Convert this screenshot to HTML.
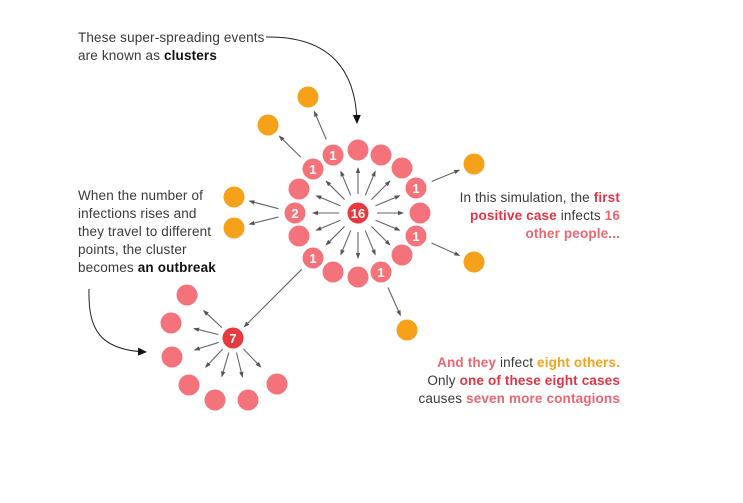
<!DOCTYPE html>
<html><head><meta charset="utf-8"><style>
html,body{margin:0;padding:0;background:#fff;}
body{width:743px;height:503px;position:relative;overflow:hidden;font-family:"Liberation Sans",sans-serif;}
.t{position:absolute;font-size:13.5px;line-height:18px;color:#3a3a3a;letter-spacing:0.15px;}
b{font-weight:bold;}
.r{text-align:right;}
.pk{color:#ec6670;} .rd{color:#e03546;} .or{color:#f4a31c;} .bk{color:#111;}
svg{position:absolute;left:0;top:0;}
</style></head><body>
<svg id="s" width="743" height="503" viewBox="0 0 743 503">
<defs>
<marker id="a" markerWidth="6" markerHeight="6" refX="5" refY="3" orient="auto" markerUnits="userSpaceOnUse"><path d="M0,0.8 L6,3 L0,5.2Z" fill="#555"/></marker>
<marker id="b" markerWidth="9" markerHeight="9" refX="8" refY="4.5" orient="auto" markerUnits="userSpaceOnUse"><path d="M0,0.5 L9,4.5 L0,8.5Z" fill="#111"/></marker>
</defs>
<path d="M266,37 C330,36 356,70 357,123" fill="none" stroke="#222" stroke-width="1" marker-end="url(#b)"/>
<path d="M89,289 C88,330 100,350 146,352" fill="none" stroke="#222" stroke-width="1" marker-end="url(#b)"/>
<g id="g"></g>
</svg>
<div class="t" style="left:78px;top:29px;">These super-spreading events<br>are known as <b class="bk">clusters</b></div>
<div class="t" style="left:78px;top:187px;">When the number of<br>infections rises and<br>they travel to different<br>points, the cluster<br>becomes <b class="bk">an outbreak</b></div>
<div class="t r" style="right:123px;top:189px;">In this simulation, the <b class="rd">first</b><br><b class="rd">positive case</b> infects <b class="pk">16</b><br><b class="pk">other people...</b></div>
<div class="t r" style="right:123px;top:354px;"><b class="pk">And they</b> infect <b class="or">eight others.</b><br>Only <b class="rd">one of these eight cases</b><br>causes <b class="pk">seven more contagions</b></div>
<script>
var g=document.getElementById('g'),NS='http://www.w3.org/2000/svg';
function el(t,a){var e=document.createElementNS(NS,t);for(var k in a)e.setAttribute(k,a[k]);g.appendChild(e);return e;}
function line(x1,y1,x2,y2,o1,o2){var dx=x2-x1,dy=y2-y1,d=Math.hypot(dx,dy);dx/=d;dy/=d;
el('line',{x1:x1+dx*o1,y1:y1+dy*o1,x2:x2-dx*o2,y2:y2-dy*o2,stroke:'#666','stroke-width':1.1,'marker-end':'url(#a)'});}
function circ(x,y,c,t){el('circle',{cx:x,cy:y,r:10.5,fill:c});if(t){var e=el('text',{x:x,y:y+5,'text-anchor':'middle',fill:'#fff','font-size':13,'font-weight':'bold','font-family':'Liberation Sans, sans-serif'});e.textContent=t;}}
var cx=358,cy=213;
var ring=[[358,150],[381,155,''],[402,168],[416,188,'1'],[420,213],[416,236,'1'],[402,255],[381,272,'1'],[358,277],[333,272],[313,258,'1'],[299,236],[295,213,'2'],[299,189],[313,169,'1'],[333,155,'1']];
for(var i=0;i<16;i++){var a=-Math.PI/2+i*Math.PI/8;line(cx,cy,cx+45*Math.cos(a),cy+45*Math.sin(a),19,0);}
var oranges=[[308,97],[268,125],[234,197],[234,228],[474,164],[474,262],[407,330]];
var links=[[333,155,308,97],[313,169,268,125],[295,213,234,197],[295,213,234,228],[416,188,474,164],[416,236,474,262],[381,272,407,330]];
links.forEach(function(l){line(l[0],l[1],l[2],l[3],17,16);});
line(313,258,233,338,16,16);
var c7=[233,338];
var small=[[187,295],[171,323],[172,357],[189,385],[215,400],[248,400],[277,384]];
small.forEach(function(p){var dx=p[0]-c7[0],dy=p[1]-c7[1],d=Math.hypot(dx,dy);line(c7[0],c7[1],c7[0]+dx/d*40,c7[1]+dy/d*40,15,0);});
ring.forEach(function(p){circ(p[0],p[1],'#f4737a',p[2]);});
oranges.forEach(function(p){circ(p[0],p[1],'#f5a119');});
small.forEach(function(p){circ(p[0],p[1],'#f4737a');});
circ(cx,cy,'#e8393f','16');
circ(233,338,'#e8393f','7');
</script>
</body></html>
